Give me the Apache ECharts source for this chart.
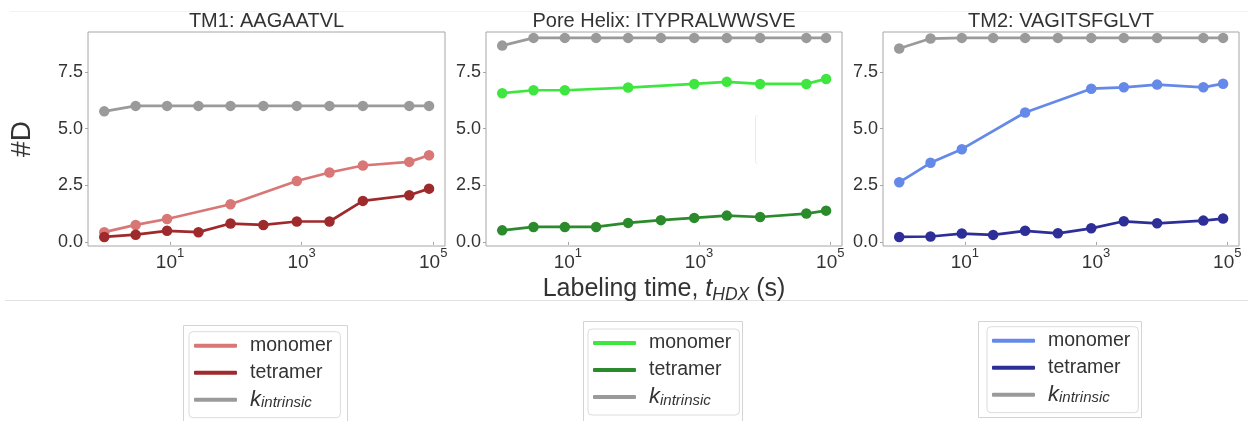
<!DOCTYPE html>
<html><head><meta charset="utf-8">
<script src="https://cdn.jsdelivr.net/npm/echarts@6/dist/echarts.min.js"></script>
<style>html,body{margin:0;padding:0;background:#fff}#c{width:1248px;height:421px}</style>
</head><body><div id="c"></div>
<script>
// ---- data ----
const times = [1, 3, 9, 27, 83, 262, 845, 2650, 8530, 43200, 86400];
const panelTitles = ['TM1: AAGAATVL', 'Pore Helix: ITYPRALWWSVE', 'TM2: VAGITSFGLVT'];
const seriesLabels = ['monomer', 'tetramer', 'kintrinsic'];
const tm1Monomer  = [0.43, 0.75, 1.01, null, 1.66, null, 2.69, 3.06, 3.37, 3.53, 3.82];
const tm1Tetramer = [0.22, 0.32, 0.49, 0.43, 0.81, 0.75, 0.90, 0.90, 1.81, 2.06, 2.35];
const tm1Kint     = [5.76, 6.0, 6.0, 6.0, 6.0, 6.0, 6.0, 6.0, 6.0, 6.0, 6.0];
const poreMonomer  = [6.56, 6.69, 6.69, null, 6.81, null, 6.97, 7.06, 6.97, 6.97, 7.19];
const poreTetramer = [0.51, 0.66, 0.66, 0.66, 0.84, 0.96, 1.06, 1.16, 1.10, 1.25, 1.38];
const poreKint     = [8.66, 9.0, 9.0, 9.0, 9.0, 9.0, 9.0, 9.0, 9.0, 9.0, 9.0];
const tm2Monomer  = [2.63, 3.49, 4.09, null, 5.71, null, 6.76, 6.82, 6.94, 6.82, 6.98];
const tm2Tetramer = [0.22, 0.24, 0.37, 0.31, 0.49, 0.38, 0.60, 0.91, 0.82, 0.94, 1.03];
const tm2Kint     = [8.53, 8.97, 9.0, 9.0, 9.0, 9.0, 9.0, 9.0, 9.0, 9.0, 9.0];
const yTicks = [0, 2.5, 5, 7.5];
const xTicks = [10, 1000, 100000];

// ---- styling / layout ----
const panels = [
  {vals: [tm1Monomer, tm1Tetramer, tm1Kint], colors: ['#d97676', '#9e2a2c', '#9a9a9a'], left: 88, width: 357, legendLeft: 189, legendTop: 331.7},
  {vals: [poreMonomer, poreTetramer, poreKint], colors: ['#3fe63f', '#2b8a2b', '#9a9a9a'], left: 486, width: 356, legendLeft: 588, legendTop: 329},
  {vals: [tm2Monomer, tm2Tetramer, tm2Kint], colors: ['#6489e8', '#2e2e98', '#9a9a9a'], left: 883, width: 356, legendLeft: 987, legendTop: 326.7}
];
const FONT = 'Liberation Sans, Arial, sans-serif';
const TXT = '#333';
const AX = '#a6a6a6';

const grid = [], xAxis = [], yAxis = [], series = [], title = [], legend = [];
panels.forEach((p, i) => {
  grid.push({left: p.left, top: 32, width: p.width, height: 214, show: true, borderColor: AX, borderWidth: 1, backgroundColor: 'transparent'});
  xAxis.push({
    type: 'log', logBase: 10, gridIndex: i, min: 0.566, max: 151000,
    axisLine: {show: false},
    axisTick: {show: true, customValues: xTicks, length: 3, lineStyle: {color: AX}},
    minorTick: {show: false}, splitLine: {show: false},
    axisLabel: {
      customValues: xTicks, margin: 1,
      formatter: v => '{b|10}{s|' + Math.round(Math.log10(v)) + '}',
      rich: {
        b: {fontSize: 19, lineHeight: 31, color: TXT, fontFamily: FONT},
        s: {fontSize: 13, lineHeight: 13, verticalAlign: 'top', color: TXT, fontFamily: FONT}
      }
    },
    name: i === 1 ? '{n|Labeling time, }{t|t}{sub|HDX}{n| (s)}' : '',
    nameLocation: 'middle', nameGap: 23,
    nameTextStyle: {
      rich: {
        n: {fontSize: 25, lineHeight: 30, color: TXT, fontFamily: FONT},
        t: {fontSize: 25, lineHeight: 30, fontStyle: 'italic', color: TXT, fontFamily: FONT},
        sub: {fontSize: 17.5, lineHeight: 24, verticalAlign: 'bottom', fontStyle: 'italic', color: TXT, fontFamily: FONT}
      }
    }
  });
  yAxis.push({
    type: 'value', gridIndex: i, min: -0.18, max: 9.26,
    axisLine: {show: false}, splitLine: {show: false},
    axisTick: {show: true, customValues: yTicks, length: 3, lineStyle: {color: AX}},
    axisLabel: {customValues: yTicks, formatter: v => v.toFixed(1), fontSize: 18, color: TXT, fontFamily: FONT, margin: 5},
    name: i === 0 ? '#D' : '', nameLocation: 'middle', nameGap: 52, nameRotate: 90,
    nameTextStyle: {fontSize: 28, color: TXT, fontFamily: FONT}
  });
  title.push({
    text: panelTitles[i], left: p.left + p.width / 2, textAlign: 'center', top: 11, padding: 0,
    textStyle: {fontSize: 20, fontWeight: 'normal', color: TXT, fontFamily: FONT}
  });
  const names = [];
  p.vals.forEach((arr, k) => {
    const nm = 'p' + i + '_' + seriesLabels[k];
    names.push(nm);
    series.push({
      type: 'line', name: nm, xAxisIndex: i, yAxisIndex: i,
      data: times.map((t, j) => [t, arr[j]]),
      connectNulls: true, symbol: 'circle', symbolSize: 10.5, showSymbol: true,
      itemStyle: {color: p.colors[k]}, lineStyle: {width: 2.7, color: p.colors[k]},
      emphasis: {disabled: true}, z: 2 + k
    });
  });
  legend.push({
    data: names, orient: 'vertical', left: p.legendLeft, top: p.legendTop,
    icon: 'roundRect', itemWidth: 43, itemHeight: 4, itemGap: 5,
    padding: [3, 8, 7, 5], borderColor: '#dcdcdc', borderWidth: 1, borderRadius: 4,
    selectedMode: false,
    formatter: n => n.endsWith('kintrinsic') ? '{k|k}{s|intrinsic}' : n.split('_')[1],
    textStyle: {
      fontSize: 19.5, lineHeight: 22, color: TXT, fontFamily: FONT, padding: [0, 0, 0, 8],
      rich: {
        k: {fontSize: 22, lineHeight: 22, fontStyle: 'italic', color: TXT, fontFamily: FONT},
        s: {fontSize: 15, lineHeight: 16, verticalAlign: 'bottom', fontStyle: 'italic', color: TXT, fontFamily: FONT}
      }
    }
  });
});

const chart = echarts.init(document.getElementById('c'), null, {renderer: 'canvas'});
chart.setOption({
  backgroundColor: '#fff', animation: false,
  title, grid, xAxis, yAxis, series, legend,
  graphic: [
    {type: 'line', shape: {x1: 10, y1: 11.5, x2: 1248, y2: 11.5}, style: {stroke: '#f2f2f2', lineWidth: 1}, silent: true},
    {type: 'line', shape: {x1: 5, y1: 300.5, x2: 1248, y2: 300.5}, style: {stroke: '#e2e2e2', lineWidth: 1}, silent: true},
    {type: 'polyline', shape: {points: [[757.5, 115], [755.5, 117], [755.5, 162], [757.5, 164]]}, style: {stroke: '#ebebeb', lineWidth: 1, fill: null}, silent: true},
    {type: 'rect', shape: {x: 183.5, y: 325.5, width: 164, height: 100}, style: {stroke: '#d4d4d4', fill: null, lineWidth: 1}, silent: true},
    {type: 'rect', shape: {x: 583.5, y: 321.5, width: 159, height: 104}, style: {stroke: '#d4d4d4', fill: null, lineWidth: 1}, silent: true},
    {type: 'rect', shape: {x: 978.5, y: 321.5, width: 163, height: 96}, style: {stroke: '#d4d4d4', fill: null, lineWidth: 1}, silent: true}
  ]
});
</script></body></html>
